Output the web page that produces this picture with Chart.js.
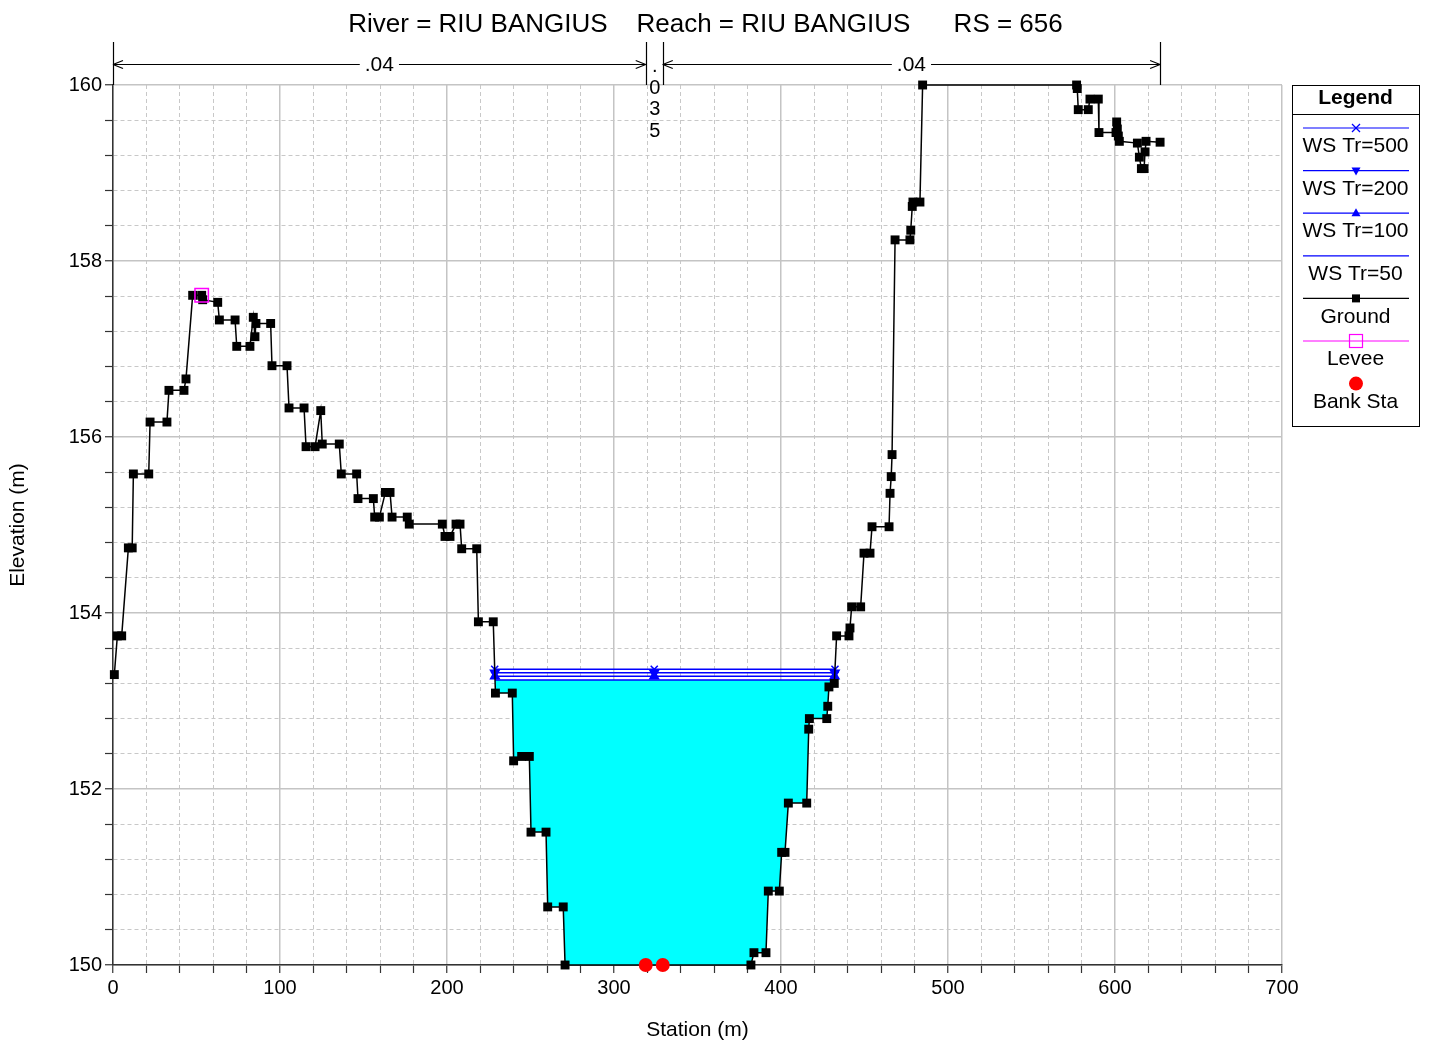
<!DOCTYPE html>
<html><head><meta charset="utf-8">
<script src="https://cdn.jsdelivr.net/npm/chart.js@4.4.0/dist/chart.umd.min.js"></script>
<style>html,body{margin:0;padding:0;background:#fff;}canvas{display:block;}</style>
</head><body>
<canvas id="c" width="1430" height="1047"></canvas>
<script>
const titleText = 'River = RIU BANGIUS    Reach = RIU BANGIUS      RS = 656';
const groundX = [0.8,2.6,5.2,9.2,11.5,12.2,21.4,22.2,32.3,33.5,42.5,43.7,47.7,53.1,53.7,62.7,63.7,73.1,74.1,82.0,
  84.0,85.0,85.6,94.4,95.2,104.2,105.4,114.4,115.6,121.0,124.4,125.3,135.5,136.7,145.9,146.7,155.9,156.7,159.5,163.1,
  165.9,167.1,176.2,177.4,197.2,198.8,201.8,205.4,207.8,208.8,217.8,218.8,227.7,229.0,239.1,239.9,244.7,249.3,250.3,259.3,
  260.3,269.6,270.7,382.0,383.8,391.0,392.4,399.0,400.4,402.4,404.4,415.4,416.6,417.0,427.4,428.0,428.7,431.9,433.3,440.7,
  441.3,442.3,447.7,449.7,453.3,454.5,464.7,465.3,466.0,466.5,468.3,477.2,477.7,478.6,479.0,483.2,484.8,577.0,577.4,578.0,
  584.0,585.0,590.0,590.4,600.6,601.0,601.4,602.0,602.6,613.4,614.6,615.8,617.4,618.0,618.6,627.0];
const groundY = [153.30,153.74,153.74,154.74,154.74,155.58,155.58,156.17,156.17,156.53,156.53,156.66,157.61,157.61,157.56,157.53,157.33,157.33,157.03,157.03,
  157.36,157.14,157.29,157.29,156.81,156.81,156.33,156.33,155.89,155.89,156.30,155.92,155.92,155.58,155.58,155.30,155.30,155.09,155.09,155.37,
  155.37,155.09,155.09,155.01,155.01,154.87,154.87,155.01,155.01,154.73,154.73,153.90,153.90,153.09,153.09,152.32,152.37,152.37,151.51,151.51,
  150.66,150.66,150.00,150.00,150.14,150.14,150.84,150.84,151.28,151.28,151.84,151.84,152.68,152.80,152.80,152.94,153.16,153.20,153.74,153.74,
  153.83,154.07,154.07,154.68,154.68,154.98,154.98,155.36,155.55,155.80,158.24,158.24,158.35,158.62,158.67,158.67,160.00,160.00,159.96,159.72,
  159.72,159.84,159.84,159.46,159.46,159.58,159.50,159.42,159.36,159.34,159.18,159.05,159.05,159.24,159.36,159.35];
const leveeX = [53.1];
const leveeY = [157.61];
const bankX = [319.0, 329.2];
const bankY = [150.0, 150.0];
const wsNames = ['WS Tr=500', 'WS Tr=200', 'WS Tr=100', 'WS Tr=50'];
const wsElev = [153.36, 153.32, 153.28, 153.24];
const nValues = ['.04', '.035', '.04'];
const nBreaks = [0, 319.0, 329.2, 627.0];
const xTickLabels = [0, 100, 200, 300, 400, 500, 600, 700];
const yTickLabels = [150, 152, 154, 156, 158, 160];
const xMinorStep = 20;
const yMinorStep = 0.4;

const FONT = '"Liberation Sans", Arial, Helvetica, sans-serif';
Chart.defaults.font.family = FONT;
Chart.defaults.color = '#000';

function crossX(i, j, e) {
  const x1 = groundX[i], y1 = groundY[i], x2 = groundX[j], y2 = groundY[j];
  return x1 + (e - y1) * (x2 - x1) / (y2 - y1);
}
function wsExtent(e) {
  const k = groundY.indexOf(Math.min(...groundY));
  let i = k; while (i > 0 && groundY[i - 1] < e) i--;
  let j = k; while (j < groundX.length - 1 && groundY[j + 1] < e) j++;
  return {left: crossX(i - 1, i, e), right: crossX(j, j + 1, e), i, j};
}
const bankMid = (bankX[0] + bankX[1]) / 2;
function wsPoints(e) {
  const ex = wsExtent(e);
  return [{x: ex.left, y: e}, {x: bankMid, y: e}, {x: ex.right, y: e}];
}
function waterPolygon(e) {
  const ex = wsExtent(e);
  const pts = [{x: ex.left, y: e}];
  for (let k = ex.i; k <= ex.j; k++) pts.push({x: groundX[k], y: groundY[k]});
  pts.push({x: ex.right, y: e});
  return pts;
}

const wsStyles = [
  {pointStyle: 'crossRot', rotation: 0, radius: 5},
  {pointStyle: 'triangle', rotation: 180, radius: 5},
  {pointStyle: 'triangle', rotation: 0, radius: 5},
  {pointStyle: 'circle', rotation: 0, radius: 0}
];

const datasets = [];
datasets.push({
  label: 'water', data: waterPolygon(wsElev[3]), showLine: true, fill: 'shape',
  backgroundColor: '#00ffff', borderColor: 'rgba(0,0,0,0)', borderWidth: 0, pointRadius: 0, order: 20
});
wsNames.forEach((n, i) => {
  datasets.push({
    label: n, data: wsPoints(wsElev[i]), showLine: true, fill: false, clip: false,
    borderColor: '#0000ff', borderWidth: 1.5,
    pointStyle: wsStyles[i].pointStyle, rotation: wsStyles[i].rotation, pointRadius: wsStyles[i].radius,
    pointBackgroundColor: '#0000ff', pointBorderColor: '#0000ff', pointBorderWidth: 1.5, order: 10 + i
  });
});
datasets.push({
  label: 'Ground', data: groundX.map((x, i) => ({x, y: groundY[i]})), showLine: true, fill: false, clip: false,
  borderColor: '#000', borderWidth: 1.5, pointStyle: 'rect', pointRadius: 6.3,
  pointBackgroundColor: '#000', pointBorderColor: '#000', pointBorderWidth: 0, order: 3
});
datasets.push({
  label: 'Levee', data: leveeX.map((x, i) => ({x, y: leveeY[i]})), showLine: false, clip: false,
  pointStyle: 'rect', pointRadius: 9.5, pointBackgroundColor: 'rgba(0,0,0,0)',
  pointBorderColor: '#ff00ff', pointBorderWidth: 1.5, order: 1
});
datasets.push({
  label: 'Bank Sta', data: bankX.map((x, i) => ({x, y: bankY[i]})), showLine: false, clip: false,
  pointStyle: 'circle', pointRadius: 7, pointBackgroundColor: '#ff0000',
  pointBorderColor: '#ff0000', pointBorderWidth: 0, order: 0
});

function isLabel(arr, v) { return arr.some(l => Math.abs(l - v) < 1e-6); }
function makeTicks(scale, step) {
  const n = Math.round((scale.max - scale.min) / step);
  const t = [];
  for (let i = 0; i <= n; i++) t.push({value: Math.round((scale.min + i * step) * 1000) / 1000});
  scale.ticks = t;
}

const annot = {
  id: 'annot',
  afterDraw(chart) {
    const {ctx, chartArea: ca, scales: {x}} = chart;
    ctx.save();
    ctx.fillStyle = '#000';
    ctx.textAlign = 'center';
    ctx.textBaseline = 'middle';
    ctx.font = '26px ' + FONT;
    ctx.fillText(titleText, (ca.left + ca.right) / 2 + 8, 25);

    // Manning n annotations
    const bp = nBreaks.map(v => x.getPixelForValue(v));
    ctx.strokeStyle = '#000';
    ctx.lineWidth = 1.2;
    const line = (x1, y1, x2, y2) => { ctx.beginPath(); ctx.moveTo(x1, y1); ctx.lineTo(x2, y2); ctx.stroke(); };
    bp.forEach(p => line(Math.round(p) + 0.5, 42, Math.round(p) + 0.5, ca.top));
    const yA = 64.5;
    ctx.font = '21px ' + FONT;
    for (let i = 0; i < nValues.length; i++) {
      const a = bp[i], b = bp[i + 1], lab = nValues[i];
      const w = ctx.measureText(lab).width;
      const c = (a + b) / 2;
      if (b - a > w + 40) {
        line(a, yA, c - w / 2 - 5, yA);
        line(c + w / 2 + 5, yA, b, yA);
        line(a, yA, a + 10, yA - 4); line(a, yA, a + 10, yA + 4);
        line(b, yA, b - 10, yA - 4); line(b, yA, b - 10, yA + 4);
        ctx.fillText(lab, c, yA + 1);
      } else {
        ctx.font = '20px ' + FONT;
        lab.split('').forEach((ch, k) => ctx.fillText(ch, c + 0.5, 66.5 + k * 21.7));
        ctx.font = '21px ' + FONT;
      }
    }

    // Legend
    const L = ca.right + 10, R = 1419, T = ca.top, B = 426;
    ctx.lineWidth = 1;
    ctx.strokeStyle = '#000';
    ctx.strokeRect(L + 0.5, T + 0.5, R - L, B - T);
    line(L, T + 29.5, R, T + 29.5);
    ctx.font = 'bold 21px ' + FONT;
    ctx.fillText('Legend', (L + R) / 2, T + 13);
    ctx.font = '21px ' + FONT;
    const cx = (L + R) / 2 + 0.5;
    const items = wsNames.map((n, i) => ({label: n, kind: 'ws' + i})).concat([
      {label: 'Ground', kind: 'ground'}, {label: 'Levee', kind: 'levee'}, {label: 'Bank Sta', kind: 'bank'}]);
    items.forEach((it, i) => {
      const ly = T + 43 + i * 42.6;
      const ty = ly + 18.5;
      ctx.lineWidth = 1.2;
      if (it.kind.startsWith('ws')) {
        ctx.strokeStyle = '#0000ff'; ctx.fillStyle = '#0000ff';
        line(L + 11, ly, R - 10, ly);
        const k = +it.kind.slice(2);
        if (k === 0) { line(cx - 4, ly - 4, cx + 4, ly + 4); line(cx - 4, ly + 4, cx + 4, ly - 4); }
        else if (k === 1) { ctx.beginPath(); ctx.moveTo(cx - 4.5, ly - 3); ctx.lineTo(cx + 4.5, ly - 3); ctx.lineTo(cx, ly + 5); ctx.closePath(); ctx.fill(); }
        else if (k === 2) { ctx.beginPath(); ctx.moveTo(cx - 4.5, ly + 3); ctx.lineTo(cx + 4.5, ly + 3); ctx.lineTo(cx, ly - 5); ctx.closePath(); ctx.fill(); }
      } else if (it.kind === 'ground') {
        ctx.strokeStyle = '#000'; ctx.fillStyle = '#000';
        line(L + 11, ly, R - 10, ly);
        ctx.fillRect(cx - 4, ly - 4, 8, 8);
      } else if (it.kind === 'levee') {
        ctx.strokeStyle = '#ff00ff';
        line(L + 11, ly, R - 10, ly);
        ctx.strokeRect(cx - 6.5, ly - 6.5, 13, 13);
      } else {
        ctx.fillStyle = '#ff0000';
        ctx.beginPath(); ctx.arc(cx, ly, 7, 0, Math.PI * 2); ctx.fill();
      }
      ctx.fillStyle = '#000';
      ctx.fillText(it.label, (L + R) / 2, ty);
    });
    ctx.restore();
  }
};

new Chart(document.getElementById('c'), {
  type: 'scatter',
  data: {datasets},
  options: {
    responsive: false,
    animation: false,
    events: [],
    layout: {padding: {left: 0, top: 85, right: 148, bottom: 0}},
    plugins: {legend: {display: false}, tooltip: {enabled: false}, title: {display: false}},
    elements: {line: {tension: 0}},
    scales: {
      x: {
        type: 'linear', min: 0, max: 700,
        afterBuildTicks: s => makeTicks(s, xMinorStep),
        afterFit: s => { s.height = 82; },
        ticks: {autoSkip: false, maxRotation: 0, padding: 3, font: {size: 20},
          callback: v => isLabel(xTickLabels, v) ? String(Math.round(v)) : ''},
        grid: {
          color: c => isLabel(xTickLabels, c.tick.value) ? '#c4c4c4' : '#c8c8c8',
          lineWidth: c => isLabel(xTickLabels, c.tick.value) ? 1.5 : 1,
          tickColor: '#333', tickLength: 8, tickWidth: 1.2
        },
        border: {color: '#333', width: 1.5,
          dash: c => (c.tick && !isLabel(xTickLabels, c.tick.value)) ? [4, 3] : []},
        title: {display: true, text: 'Station (m)', font: {size: 21}, padding: {top: 0, bottom: 4.4}}
      },
      y: {
        type: 'linear', min: 150, max: 160,
        afterBuildTicks: s => makeTicks(s, yMinorStep),
        afterFit: s => { s.width = 113; },
        ticks: {autoSkip: false, padding: 3, font: {size: 20},
          callback: v => isLabel(yTickLabels, v) ? String(Math.round(v)) : ''},
        grid: {
          color: c => isLabel(yTickLabels, c.tick.value) ? '#c4c4c4' : '#c8c8c8',
          lineWidth: c => isLabel(yTickLabels, c.tick.value) ? 1.5 : 1,
          tickColor: '#333', tickLength: 8, tickWidth: 1.2
        },
        border: {color: '#333', width: 1.5,
          dash: c => (c.tick && !isLabel(yTickLabels, c.tick.value)) ? [4, 3] : []},
        title: {display: true, text: 'Elevation (m)', font: {size: 21}, padding: {top: 5.4, bottom: 0}}
      }
    }
  },
  plugins: [annot]
});
</script>
</body></html>
